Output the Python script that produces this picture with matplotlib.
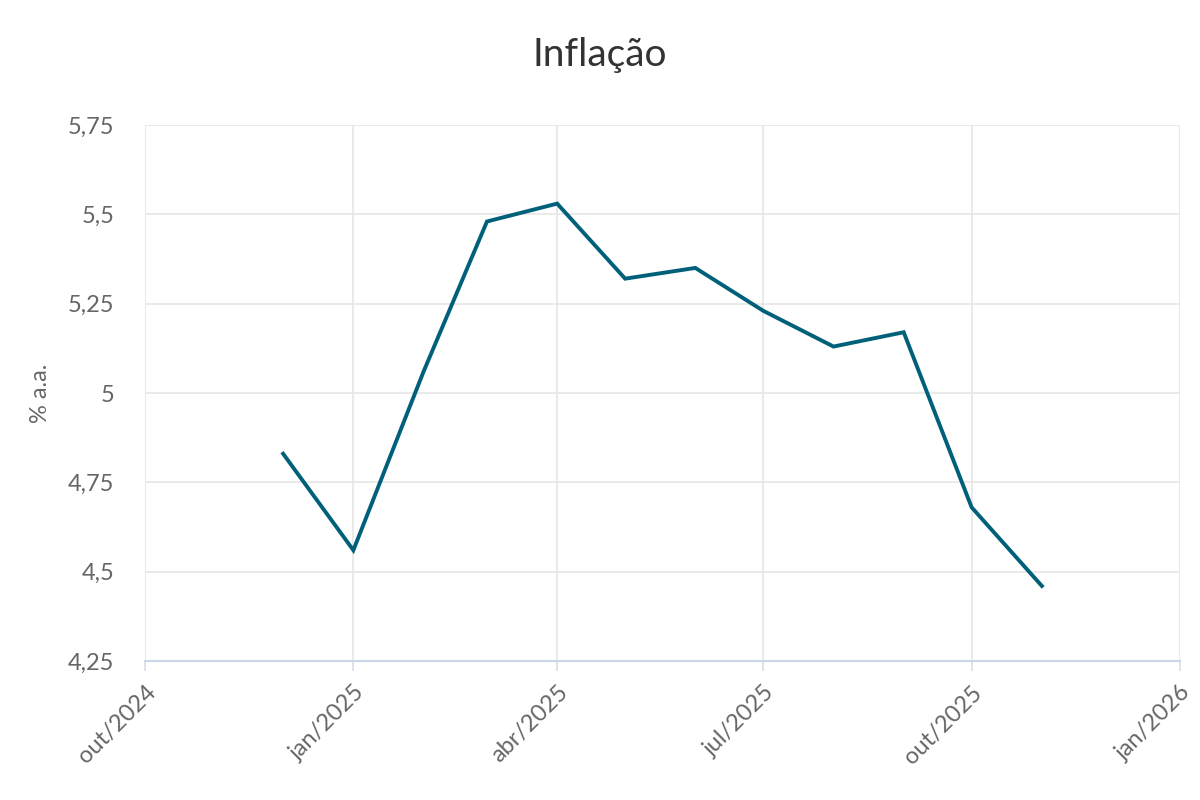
import matplotlib
matplotlib.use("Agg")
import matplotlib.pyplot as plt
import matplotlib.ticker as mticker
import pandas as pd

# IPCA 12 months (% a.a.)
months = ["2024-12-01", "2025-01-01", "2025-02-01", "2025-03-01", "2025-04-01",
          "2025-05-01", "2025-06-01", "2025-07-01", "2025-08-01", "2025-09-01",
          "2025-10-01", "2025-11-01"]
values = [4.83, 4.56, 5.06, 5.48, 5.53, 5.32, 5.35, 5.23, 5.13, 5.17, 4.68, 4.46]
tick_dates = ["2024-10-01", "2025-01-01", "2025-04-01", "2025-07-01",
              "2025-10-01", "2026-01-01"]
tick_labels = ["out/2024", "jan/2025", "abr/2025", "jul/2025", "out/2025", "jan/2026"]
y_ticks = [4.25, 4.5, 4.75, 5.0, 5.25, 5.5, 5.75]

plt.rcParams["font.family"] = ["Lato", "DejaVu Sans"]

fig = plt.figure(figsize=(12, 8), dpi=100)
ax = fig.add_axes([145 / 1200, 1 - 661 / 800, 1035 / 1200, 536 / 800])

x = pd.to_datetime(months)
ax.plot(x, values, color="#00607a", linewidth=2.8, solid_joinstyle="miter", zorder=3)

xt = pd.to_datetime(tick_dates)
ax.set_xlim(xt[0], xt[-1])
ax.set_ylim(4.25, 5.75)
ax.set_xticks(xt)
ax.set_xticklabels(tick_labels, rotation=45, ha="right", rotation_mode="anchor")
ax.set_yticks(y_ticks)
ax.yaxis.set_major_formatter(mticker.FuncFormatter(
    lambda v, _: f"{v:g}".replace(".", ",")))

ax.grid(True, color="#e6e6e6", linewidth=1.2, zorder=0)
for s in ["top", "right", "left"]:
    ax.spines[s].set_visible(False)
ax.spines["bottom"].set_color("#ccd6eb")
ax.spines["bottom"].set_linewidth(1.5)
ax.tick_params(axis="x", length=7, width=1.2, color="#d8dde8", pad=8,
               labelsize=17, labelcolor="#666666")
ax.tick_params(axis="y", length=0, pad=22, labelsize=17, labelcolor="#666666")

ax.set_ylabel("% a.a.", fontsize=17, color="#666666", labelpad=12)
fig.suptitle("Inflação", fontsize=28, color="#333333", y=1 - 55 / 800, va="center")

fig.savefig("out.png", dpi=100)
